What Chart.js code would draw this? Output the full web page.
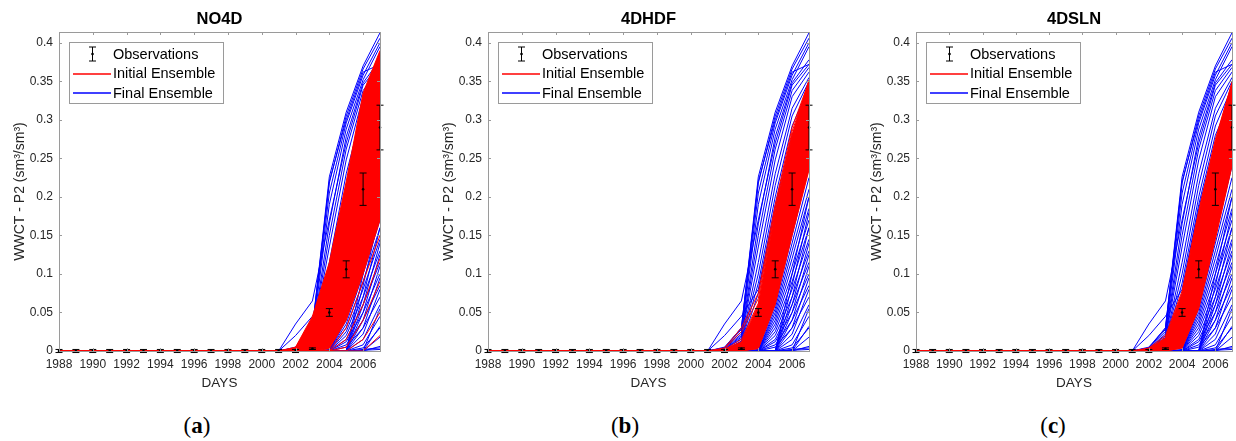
<!DOCTYPE html>
<html>
<head>
<meta charset="utf-8">
<script src="https://cdn.jsdelivr.net/npm/chart.js@4.4.0/dist/chart.umd.min.js"></script>
<style>
body{margin:0;background:#fff;width:1236px;height:441px;position:relative;overflow:hidden;}
.panel{position:absolute;top:0;width:412px;height:400px;}
.cap{position:absolute;top:413px;width:120px;margin-left:-60px;text-align:center;font:23px/26px "Liberation Serif",serif;color:#000;}
.cap b{font-weight:bold;}
</style>
</head>
<body>
<div class="panel" style="left:0"><canvas id="cA" width="412" height="400"></canvas></div>
<div class="panel" style="left:412px"><canvas id="cB" width="412" height="400"></canvas></div>
<div class="panel" style="left:824px"><canvas id="cC" width="412" height="400"></canvas></div>
<div class="cap" style="left:197px">(<b>a</b>)</div>
<div class="cap" style="left:625px">(<b>b</b>)</div>
<div class="cap" style="left:1053px">(<b>c</b>)</div>
<script>
var FONT = '"Liberation Sans", Arial, sans-serif';
Chart.defaults.font.family = FONT;

var years = [1988,1989,1990,1991,1992,1993,1994,1995,1996,1997,1998,1999,2000,2001,2002,2003,2004,2005,2006,2007];
// every ensemble member is zero from 1988 to 2000, tails below are 2001..2007
var lead = [0,0,0,0,0,0,0,0,0,0,0,0,0];
var xTicks = [1988,1990,1992,1994,1996,1998,2000,2002,2004,2006];
var yTicks = [0,0.05,0.1,0.15,0.2,0.25,0.3,0.35,0.4];
var yTickLabels = ['0','0.05','0.1','0.15','0.2','0.25','0.3','0.35','0.4'];
var titles = ['NO4D','4DHDF','4DSLN'];
var legendLabels = ['Observations','Initial Ensemble','Final Ensemble'];

var obsValue = [0,0,0,0,0,0,0,0,0,0,0,0,0,0,0,0.003,0.05,0.106,0.21,0.29];
var obsError = [0.002,0.002,0.002,0.002,0.002,0.002,0.002,0.002,0.002,0.002,0.002,0.002,0.002,0.002,0.002,0.001,0.005,0.011,0.021,0.029];

// final ensemble (same look in all three panels)
var blueLines = [
  [0,0.005,0.03,0.226,0.31,0.37,0.413],
  [0,0.004,0.028,0.218,0.305,0.366,0.406],
  [0,0.004,0.03,0.22,0.3,0.362,0.372],
  [0,0.003,0.025,0.205,0.296,0.358,0.4],
  [0,0.003,0.022,0.19,0.288,0.352,0.395],
  [0,0.035,0.065,0.17,0.27,0.345,0.372],
  [0,0.002,0.02,0.165,0.278,0.348,0.378],
  [0,0.002,0.018,0.15,0.262,0.338,0.368],
  [0,0.002,0.016,0.135,0.248,0.33,0.362],
  [0,0.001,0.013,0.115,0.23,0.315,0.355],
  [0,0.001,0.012,0.1,0.215,0.305,0.35],
  [0,0.001,0.01,0.088,0.2,0.292,0.342],
  [0,0.02,0.045,0.08,0.19,0.28,0.33],
  [0,0,0.008,0.075,0.185,0.27,0.325],
  [0,0,0.005,0.05,0.16,0.26,0.32],
  [0,0,0.004,0.04,0.14,0.24,0.31],
  [0,0,0,0.002,0.06,0.15,0.24],
  [0,0,0,0,0.055,0.14,0.225],
  [0,0,0,0,0.05,0.13,0.21],
  [0,0,0,0,0.045,0.12,0.2],
  [0,0,0,0,0.04,0.11,0.185],
  [0,0,0,0,0.035,0.1,0.17],
  [0,0,0,0,0.03,0.09,0.16],
  [0,0,0,0,0.025,0.08,0.145],
  [0,0,0,0,0.02,0.07,0.13],
  [0,0,0,0,0.015,0.06,0.115],
  [0,0,0,0,0.012,0.05,0.1],
  [0,0,0,0,0.008,0.04,0.085],
  [0,0,0,0,0.005,0.03,0.07],
  [0,0,0,0,0,0.1,0.2],
  [0,0,0,0,0,0.085,0.18],
  [0,0,0,0,0,0.07,0.16],
  [0,0,0,0,0,0.06,0.14],
  [0,0,0,0,0,0.05,0.125],
  [0,0,0,0,0,0.04,0.11],
  [0,0,0,0,0,0.03,0.095],
  [0,0,0,0,0,0.022,0.08],
  [0,0,0,0,0,0.015,0.06],
  [0,0,0,0,0,0.008,0.045],
  [0,0,0,0,0,0.004,0.03],
  [0,0,0,0,0,0,0.055],
  [0,0,0,0,0,0,0.032],
  [0,0,0,0,0,0,0.018],
  [0,0,0,0,0,0,0.006],
  [0,0,0,0,0,0.002,0.004],
  [0,0,0,0,0,0.001,0.002]
];

// initial ensemble, panel (a)
var redTopA = [0,0.005,0.045,0.115,0.22,0.335,0.39];
var redBottomA = [0,0,0,0.003,0.04,0.1,0.17];
var redLinesA = [
  [0,0.004,0.042,0.11,0.215,0.33,0.388],
  [0,0.003,0.038,0.1,0.205,0.325,0.38],
  [0,0.003,0.03,0.09,0.195,0.31,0.37],
  [0,0.002,0.025,0.08,0.18,0.3,0.36],
  [0,0.001,0.02,0.07,0.165,0.285,0.35],
  [0,0.001,0.012,0.055,0.15,0.27,0.34],
  [0,0,0.008,0.04,0.13,0.25,0.33],
  [0,0,0.004,0.03,0.11,0.22,0.3],
  [0,0,0.002,0.02,0.09,0.19,0.28],
  [0,0,0,0.01,0.07,0.16,0.25],
  [0,0,0,0.005,0.055,0.13,0.21],
  [0,0,0,0,0.03,0.09,0.15],
  [0,0,0,0,0.015,0.06,0.12],
  [0,0,0,0,0.005,0.04,0.09],
  [0,0,0,0,0,0.015,0.05],
  [0,0,0,0,0,0,0.02]
];

// panel (b)
var redTopB = [0,0.002,0.012,0.06,0.18,0.28,0.352];
var redBottomB = [0,0,0,0.003,0.06,0.15,0.235];
var redLinesB = [
  [0,0.004,0.03,0.075,0.19,0.29,0.35],
  [0,0.003,0.025,0.068,0.185,0.285,0.348],
  [0,0.002,0.015,0.062,0.18,0.28,0.345],
  [0,0.001,0.01,0.05,0.16,0.26,0.33],
  [0,0,0.006,0.035,0.13,0.23,0.3],
  [0,0,0.003,0.02,0.1,0.2,0.28],
  [0,0,0,0.01,0.08,0.17,0.25],
  [0,0,0,0.004,0.065,0.155,0.24]
];

// panel (c)
var redTopC = [0,0.003,0.017,0.075,0.18,0.272,0.349];
var redBottomC = [0,0,0,0.004,0.055,0.145,0.24];
var redLinesC = [
  [0,0.004,0.02,0.078,0.182,0.275,0.348],
  [0,0.003,0.017,0.07,0.175,0.268,0.342],
  [0,0.002,0.012,0.06,0.16,0.255,0.33],
  [0,0.001,0.008,0.045,0.14,0.235,0.315],
  [0,0,0.004,0.03,0.115,0.21,0.295],
  [0,0,0.002,0.018,0.09,0.185,0.275],
  [0,0,0,0.008,0.07,0.16,0.255],
  [0,0,0,0.004,0.058,0.148,0.245]
];

function toPoints(tail) {
  var v = lead.concat(tail);
  return years.map(function(yr, i){ return {x: yr, y: v[i]}; });
}

function lineSet(tail, color, order) {
  return {data: toPoints(tail), borderColor: color, borderWidth: 1, pointRadius: 0, fill: false, tension: 0, order: order};
}

var errorBars = {
  id: 'errorBars',
  afterDatasetsDraw: function(chart) {
    var ctx = chart.ctx, xs = chart.scales.x, ys = chart.scales.y;
    ctx.save();
    ctx.strokeStyle = '#000';
    ctx.lineWidth = 1;
    years.forEach(function(yr, i){
      var x = xs.getPixelForValue(yr);
      var y0 = ys.getPixelForValue(obsValue[i] - obsError[i]);
      var y1 = ys.getPixelForValue(obsValue[i] + obsError[i]);
      ctx.beginPath();
      ctx.moveTo(x, y0); ctx.lineTo(x, y1);
      ctx.moveTo(x - 3.5, y0); ctx.lineTo(x + 3.5, y0);
      ctx.moveTo(x - 3.5, y1); ctx.lineTo(x + 3.5, y1);
      ctx.stroke();
    });
    ctx.restore();
  }
};

var boxTicks = {
  id: 'boxTicks',
  afterDraw: function(chart) {
    var ctx = chart.ctx, a = chart.chartArea, xs = chart.scales.x, ys = chart.scales.y;
    ctx.save();
    ctx.strokeStyle = '#9a9a9a';
    ctx.lineWidth = 1;
    ctx.strokeRect(Math.round(a.left) + 0.5, Math.round(a.top) + 0.5, Math.round(a.right - a.left), Math.round(a.bottom - a.top));
    ctx.beginPath();
    xTicks.forEach(function(v){
      var x = Math.round(xs.getPixelForValue(v)) + 0.5;
      ctx.moveTo(x, a.bottom); ctx.lineTo(x, a.bottom - 3);
      ctx.moveTo(x, a.top); ctx.lineTo(x, a.top + 3);
    });
    yTicks.forEach(function(v){
      var y = Math.round(ys.getPixelForValue(v)) + 0.5;
      ctx.moveTo(a.left, y); ctx.lineTo(a.left + 3, y);
      ctx.moveTo(a.right, y); ctx.lineTo(a.right - 3, y);
    });
    ctx.stroke();

    // legend inside the axes, top left
    var bx = Math.round(a.left) + 10, by = Math.round(a.top) + 10;
    ctx.fillStyle = '#fff';
    ctx.fillRect(bx, by, 154, 61);
    ctx.strokeStyle = '#9a9a9a';
    ctx.strokeRect(bx + 0.5, by + 0.5, 154, 61);
    var ix = bx + 23.5, iy = by + 12;
    ctx.strokeStyle = '#000';
    ctx.beginPath();
    ctx.moveTo(ix, iy - 7); ctx.lineTo(ix, iy + 7);
    ctx.moveTo(ix - 3.5, iy - 7); ctx.lineTo(ix + 3.5, iy - 7);
    ctx.moveTo(ix - 3.5, iy + 7); ctx.lineTo(ix + 3.5, iy + 7);
    ctx.stroke();
    ctx.fillStyle = '#000';
    ctx.beginPath(); ctx.arc(ix, iy, 1.3, 0, Math.PI * 2); ctx.fill();
    ctx.lineWidth = 1.5;
    ctx.strokeStyle = '#ff0000';
    ctx.beginPath(); ctx.moveTo(bx + 4, by + 32); ctx.lineTo(bx + 42, by + 32); ctx.stroke();
    ctx.strokeStyle = '#0000ff';
    ctx.beginPath(); ctx.moveTo(bx + 4, by + 51); ctx.lineTo(bx + 42, by + 51); ctx.stroke();
    ctx.fillStyle = '#000';
    ctx.font = '14.5px ' + FONT;
    ctx.textBaseline = 'middle';
    ctx.textAlign = 'left';
    legendLabels.forEach(function(t, i){ ctx.fillText(t, bx + 44, by + 12.5 + i * 19.5); });
    ctx.restore();
  }
};

function makeChart(id, title, redTop, redBottom, redLines, padLeft, padRight) {
  var ds = [];
  ds.push({data: years.map(function(yr, i){ return {x: yr, y: obsValue[i]}; }), showLine: false,
    pointRadius: 1.3, pointBackgroundColor: '#000', pointBorderWidth: 0, clip: false, order: 0});
  redLines.forEach(function(l){ ds.push(lineSet(l, '#ff0000', 1)); });
  ds.push(lineSet(redBottom, '#ff0000', 1));
  var top = lineSet(redTop, '#ff0000', 1);
  top.fill = '-1';
  top.backgroundColor = '#ff0000';
  ds.push(top);
  blueLines.forEach(function(l){ ds.push(lineSet(l, '#0000ff', 2)); });

  return new Chart(document.getElementById(id), {
    type: 'line',
    data: {datasets: ds},
    plugins: [errorBars, boxTicks],
    options: {
      responsive: false,
      animation: false,
      events: [],
      layout: {padding: {left: padLeft, right: padRight, top: 0, bottom: 0}},
      plugins: {
        legend: {display: false},
        tooltip: {enabled: false},
        title: {display: true, text: title, fullSize: false, color: '#000',
          font: {family: FONT, size: 16.5, weight: 'bold'}, padding: {top: 10, bottom: 2.2}}
      },
      scales: {
        x: {
          type: 'linear', min: 1988, max: 2007,
          afterBuildTicks: function(s){ s.ticks = xTicks.map(function(v){ return {value: v}; }); },
          afterFit: function(s){ s.height = 49; },
          grid: {display: false, drawTicks: false},
          border: {display: false},
          ticks: {color: '#262626', font: {size: 12}, padding: 6, maxRotation: 0, autoSkip: false,
            callback: function(v){ return String(v); }},
          title: {display: true, text: 'DAYS', color: '#262626', font: {size: 13.5}, padding: {top: 0, bottom: 9}}
        },
        y: {
          type: 'linear', min: 0, max: 0.414,
          afterBuildTicks: function(s){ s.ticks = yTicks.map(function(v){ return {value: v}; }); },
          afterFit: function(s){ s.width = 59; },
          grid: {display: false, drawTicks: false},
          border: {display: false},
          ticks: {color: '#262626', font: {size: 12}, padding: 6,
            callback: function(v, i){ return yTickLabels[i]; }},
          title: {display: true, text: 'WWCT - P2 (sm³/sm³)', color: '#262626', font: {size: 14}, padding: {top: 12, bottom: 0}}
        }
      }
    }
  });
}

makeChart('cA', titles[0], redTopA, redBottomA, redLinesA, 0, 32);
makeChart('cB', titles[1], redTopB, redBottomB, redLinesB, 17, 15);
makeChart('cC', titles[2], redTopC, redBottomC, redLinesC, 33, 1);
</script>
</body>
</html>
